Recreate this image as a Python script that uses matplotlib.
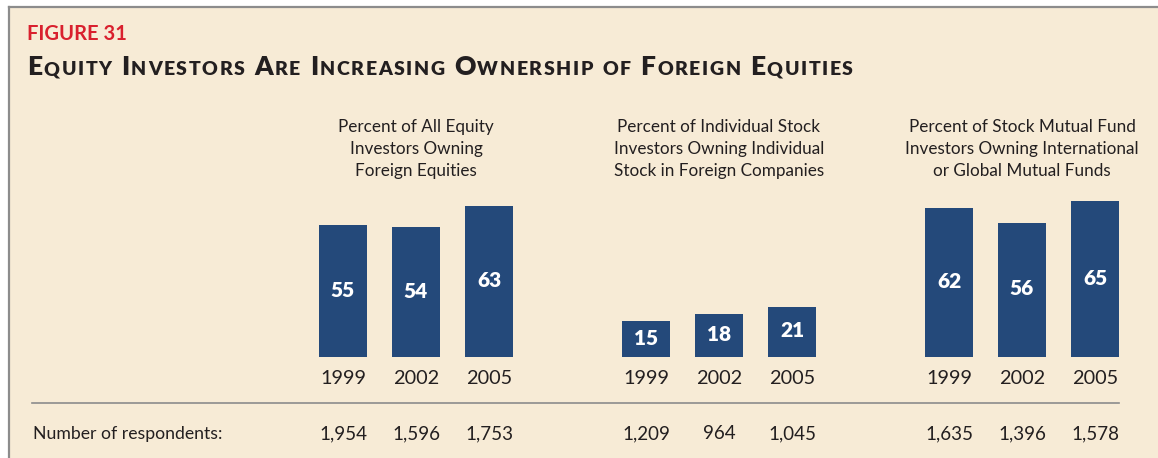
import matplotlib
matplotlib.use("Agg")
import matplotlib.pyplot as plt
from matplotlib.patches import Rectangle
from matplotlib.lines import Line2D

# data
years = ["1999", "2002", "2005"]
all_equity = [55, 54, 63]
indiv_stock = [15, 18, 21]
mutual_fund = [62, 56, 65]
resp_all = ["1,954", "1,596", "1,753"]
resp_indiv = ["1,209", "964", "1,045"]
resp_fund = ["1,635", "1,396", "1,578"]
panel_titles = [
    "Percent of All Equity\nInvestors Owning\nForeign Equities",
    "Percent of Individual Stock\nInvestors Owning Individual\nStock in Foreign Companies",
    "Percent of Stock Mutual Fund\nInvestors Owning International\nor Global Mutual Funds",
]
fig_label = "FIGURE 31"
title = "Equity Investors Are Increasing Ownership of Foreign Equities"

BG = "#F7EBD6"
BAR = "#24497A"
INK = "#231F20"
RED = "#D9202E"
FONT = "Lato"

W, H = 1158, 458
fig = plt.figure(figsize=(W / 100, H / 100), dpi=100)
fig.patch.set_facecolor("white")

# beige panel with grey frame top/left
fig.patches.append(Rectangle((9 / W, 0), 1 - 9 / W, 1 - 7.5 / H, transform=fig.transFigure,
                             facecolor=BG, edgecolor="none", zorder=-5))
fig.lines.append(Line2D([8.5 / W, 1], [1 - 6.5 / H, 1 - 6.5 / H], transform=fig.transFigure,
                        color="#8C8C8C", lw=1.6, zorder=-4))
fig.lines.append(Line2D([8.5 / W, 8.5 / W], [0, 1 - 6.5 / H], transform=fig.transFigure,
                        color="#8C8C8C", lw=1.6, zorder=-4))

fig.text(27 / W, 1 - 34 / H, fig_label, color=RED, fontsize=14.5, fontweight="bold",
         family=FONT, va="center", ha="left")

# small caps title, letter by letter with a bit of tracking
renderer = fig.canvas.get_renderer()
x = 27.0
y = 1 - 75 / H
big, small = 19, 14
track = 1.6
for word in title.split(" "):
    for i, ch in enumerate(word):
        sz = big if (i == 0 and ch.isupper()) else small
        t = fig.text(x / W, y, ch.upper(), fontsize=sz, fontweight="heavy", family=FONT,
                     color=INK, ha="left", va="baseline")
        x += t.get_window_extent(renderer).width + track
    x += 8

panels = [(all_equity, resp_all), (indiv_stock, resp_indiv), (mutual_fund, resp_fund)]
centers = [416, 719, 1022]
step = 73
ymax = 70
px_per_unit = 2.4
base = 357
ax_h = ymax * px_per_unit
resp_baseline = 439

for (vals, resp), c, ttl in zip(panels, centers, panel_titles):
    left = c - 1.5 * step
    ax = fig.add_axes([left / W, (H - base) / H, 3 * step / W, ax_h / H])
    ax.set_facecolor("none")
    pos = range(len(vals))
    ax.bar(pos, vals, width=48 / step, color=BAR)
    for p, v in zip(pos, vals):
        ax.text(p, v * 0.5 + 0.4, str(v), ha="center", va="center", color="white",
                fontsize=15, fontweight="heavy", family=FONT)
    ax.set_xlim(-0.5, 2.5)
    ax.set_ylim(0, ymax)
    ax.set_xticks(list(pos))
    ax.set_xticklabels(years, fontsize=14.3, family=FONT, color=INK)
    ax.tick_params(axis="x", length=0, pad=9)
    ax.set_yticks([])
    for s in ax.spines.values():
        s.set_visible(False)
    fig.text(c / W, 1 - 149 / H, ttl, ha="center", va="center", fontsize=12.3, family=FONT,
             color=INK, linespacing=1.45)
    for p, r in zip(pos, resp):
        ax.annotate(r, xy=(p, 0), xycoords=("data", "axes fraction"),
                    xytext=(0, -(resp_baseline - base)), textcoords="offset pixels",
                    ha="center", va="baseline", fontsize=13.5, family=FONT, color=INK)

fig.lines.append(Line2D([32 / W, 1119 / W], [1 - 403 / H, 1 - 403 / H], transform=fig.transFigure,
                        color="#8C8C8C", lw=1.2))
fig.text(33 / W, 1 - resp_baseline / H, "Number of respondents:", ha="left", va="baseline",
         fontsize=12.7, family=FONT, color=INK)

fig.savefig("out.png", dpi=100, facecolor=fig.get_facecolor())
